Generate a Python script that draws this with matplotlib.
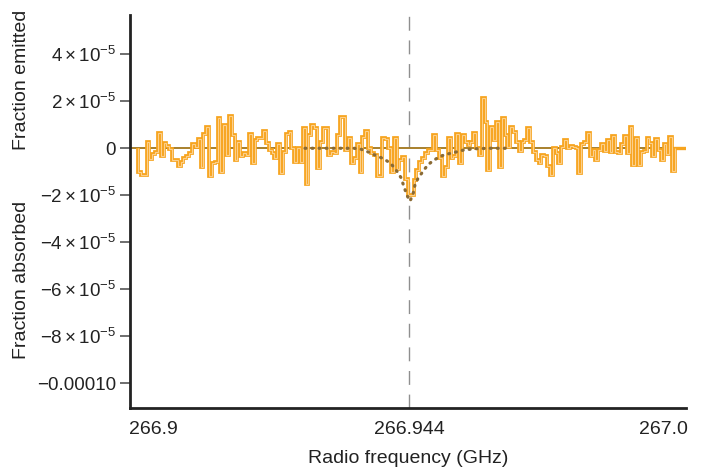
import numpy as np
import matplotlib
matplotlib.use("Agg")
import matplotlib.pyplot as plt

plt.rcParams['font.family'] = ['Liberation Sans', 'DejaVu Sans']
plt.rcParams['mathtext.fontset'] = 'custom'
plt.rcParams['mathtext.rm'] = 'Liberation Sans'
plt.rcParams['mathtext.it'] = 'Liberation Sans:italic'

# spectrum, in units of 1e-5 (fraction emitted / absorbed), equal channels
spec_left = [-1.02, -1.13, -1.13, 0.28, -0.45, -0.25, -0.15, 0.67, -0.31, 0.24,
             0.11, -0.04, -0.48, -0.52, -0.75, -0.57, -0.43, -0.31, -0.21, 0.17,
             0.05, 0.38, -0.78, 0.6, 0.92, -1.2, -0.64, -0.6, 1.28, -1.0,
             1.0, -0.28, 1.39, 0.57, -0.5, 0.26, -0.35, -0.21, -0.28, 0.61,
             -0.64, 0.35, 0.45, 0.45, 0.75, 0.21, -0.07, -0.21, -0.43, 0.17,
             -1.06, -0.14, 0.6, 0.71, 0.0, -0.57, 0.0, -0.57, 0.85, -1.53,
             0.57, 1.0, 0.85,
             -0.85, 0.28, 0.85, 0.85, -0.28, -0.14, -0.21, 0.57, 1.35, 1.35,
             -0.07, 0.43, -0.64, -0.43, 0.17, -1.02, 0.5, 0.74, 0.0, -0.21,
             -0.28, -1.16, -1.16, 0.43, 0.4, 0.0, -1.02, 0.45, -0.88, -0.5, -0.36]
spec_line = [-1.3, -2.0, -2.0, -1.35]
spec_right = [-0.92, -0.57, -0.43, -0.21, -0.07, -0.07, 0.57, -0.07, -0.43, -1.2,
              -0.78, 0.43, -0.43, -0.35, 0.61, -0.61, 0.57, 0.28, 0.14, 0.28,
              0.64, 0.0, -0.28, 2.13, 1.13, -0.92, 0.89, 0.35, 1.13,
              -0.78, 1.3, 0.57, 0.07, 0.92, 0.68, 0.28, -0.11, 0.28, 0.35,
              0.88, 0.28, -0.14, -0.5, -0.64, -0.28, -0.35, -0.74, -1.13, 0.0,
              -0.21, -0.64, 0.07, 0.35, 0.0, 0.11, 0.07, 0.0, -1.06, 0.17,
              0.28, 0.64, -0.33, -0.07,
              -0.5, -0.07, 0.17, -0.11, 0.35, -0.14, 0.52, -0.14, -0.21, 0.17,
              0.52, -0.21, 0.89, -0.71, 0.43, -0.71, -0.14, -0.11, 0.43, 0.21,
              -0.35, 0.38, -0.07, -0.5, 0.17, -0.26, 0.47, -0.96]
f_first, f_last = 266.89706, 267.00235

# model absorption line (dotted)
model_freq = [266.92980, 266.93275, 266.93569, 266.93941, 266.94078, 266.94235,
              266.94392, 266.94529, 266.94667, 266.94765, 266.94863, 266.94922,
              266.94980, 266.95039, 266.95098, 266.95137, 266.95196, 266.95314,
              266.95392, 266.95510, 266.95647, 266.95745, 266.95980, 266.96098,
              266.96314, 266.96608, 266.97000]
model_val = [0, 0, 0, 0, -0.04, -0.17, -0.33, -0.45, -0.66, -0.92, -1.25, -1.64,
             -2.0, -2.25, -1.95, -1.56, -1.28, -0.92, -0.7, -0.5, -0.33, -0.26,
             -0.14, -0.07, -0.02, 0, 0]

line_freq = 266.95029
xticks = [266.9, line_freq, 267.0]
xtick_labels = ['266.9', '266.944', '267.0']
yticks = [4e-5, 2e-5, 0, -2e-5, -4e-5, -6e-5, -8e-5, -1e-4]
ytick_labels = [r'$4\times10^{-5}$', r'$2\times10^{-5}$', '0',
                r'$-2\times10^{-5}$', r'$-4\times10^{-5}$', r'$-6\times10^{-5}$',
                r'$-8\times10^{-5}$', '\u22120.00010']

spec = np.array(spec_left + spec_line + spec_right) * 1e-5
edges = np.linspace(f_first, f_last, len(spec) + 1)

fig = plt.figure(figsize=(7.04, 4.67), dpi=100)
ax = fig.add_axes([0.1847, 0.1263, 0.7897, 0.8416])
xmin, xmax = 266.89549, 267.00451
ax.set_xlim(xmin, xmax)
ax.set_ylim(-11.05e-5, 5.67e-5)

ax.axvline(line_freq, color='#8f8f8f', lw=1.0, dashes=(10, 7), zorder=1)
ax.plot([xmin, xmax], [0, 0], color='#a8802c', lw=1.4, zorder=2)
ax.plot([f_last, xmax], [0, 0], color='#f7a41e', lw=2.4, zorder=3)
ax.stairs(spec, edges, baseline=0, color='#f7a41e', lw=2.7, zorder=3)
ax.stairs(spec, edges, baseline=0, color='#fcd08c', lw=0.8, zorder=4)
ax.plot(model_freq, np.array(model_val) * 1e-5, color='#8a6a34', lw=2.3,
        linestyle=(0, (0.3, 1.9)), dash_capstyle='round', zorder=5)

for s in ['top', 'right']:
    ax.spines[s].set_visible(False)
for s in ['left', 'bottom']:
    ax.spines[s].set_linewidth(2)
    ax.spines[s].set_color('#222222')

ax.set_xticks(xticks)
ax.set_xticklabels(xtick_labels)
ax.set_yticks(yticks)
ax.set_yticklabels(ytick_labels)
ax.tick_params(axis='x', length=0, pad=9, labelsize=14, colors='#222222')
ax.tick_params(axis='y', length=7, width=1.2, color='#555555', pad=3,
               labelsize=13.5, labelcolor='#222222')

ax.set_xlabel('Radio frequency (GHz)', fontsize=14, color='#222222', labelpad=9)
fig.text(0.03, 0.83, 'Fraction emitted', rotation=90, ha='center', va='center',
         fontsize=14, color='#222222')
fig.text(0.03, 0.40, 'Fraction absorbed', rotation=90, ha='center', va='center',
         fontsize=14, color='#222222')

plt.savefig('out.png', dpi=100)
